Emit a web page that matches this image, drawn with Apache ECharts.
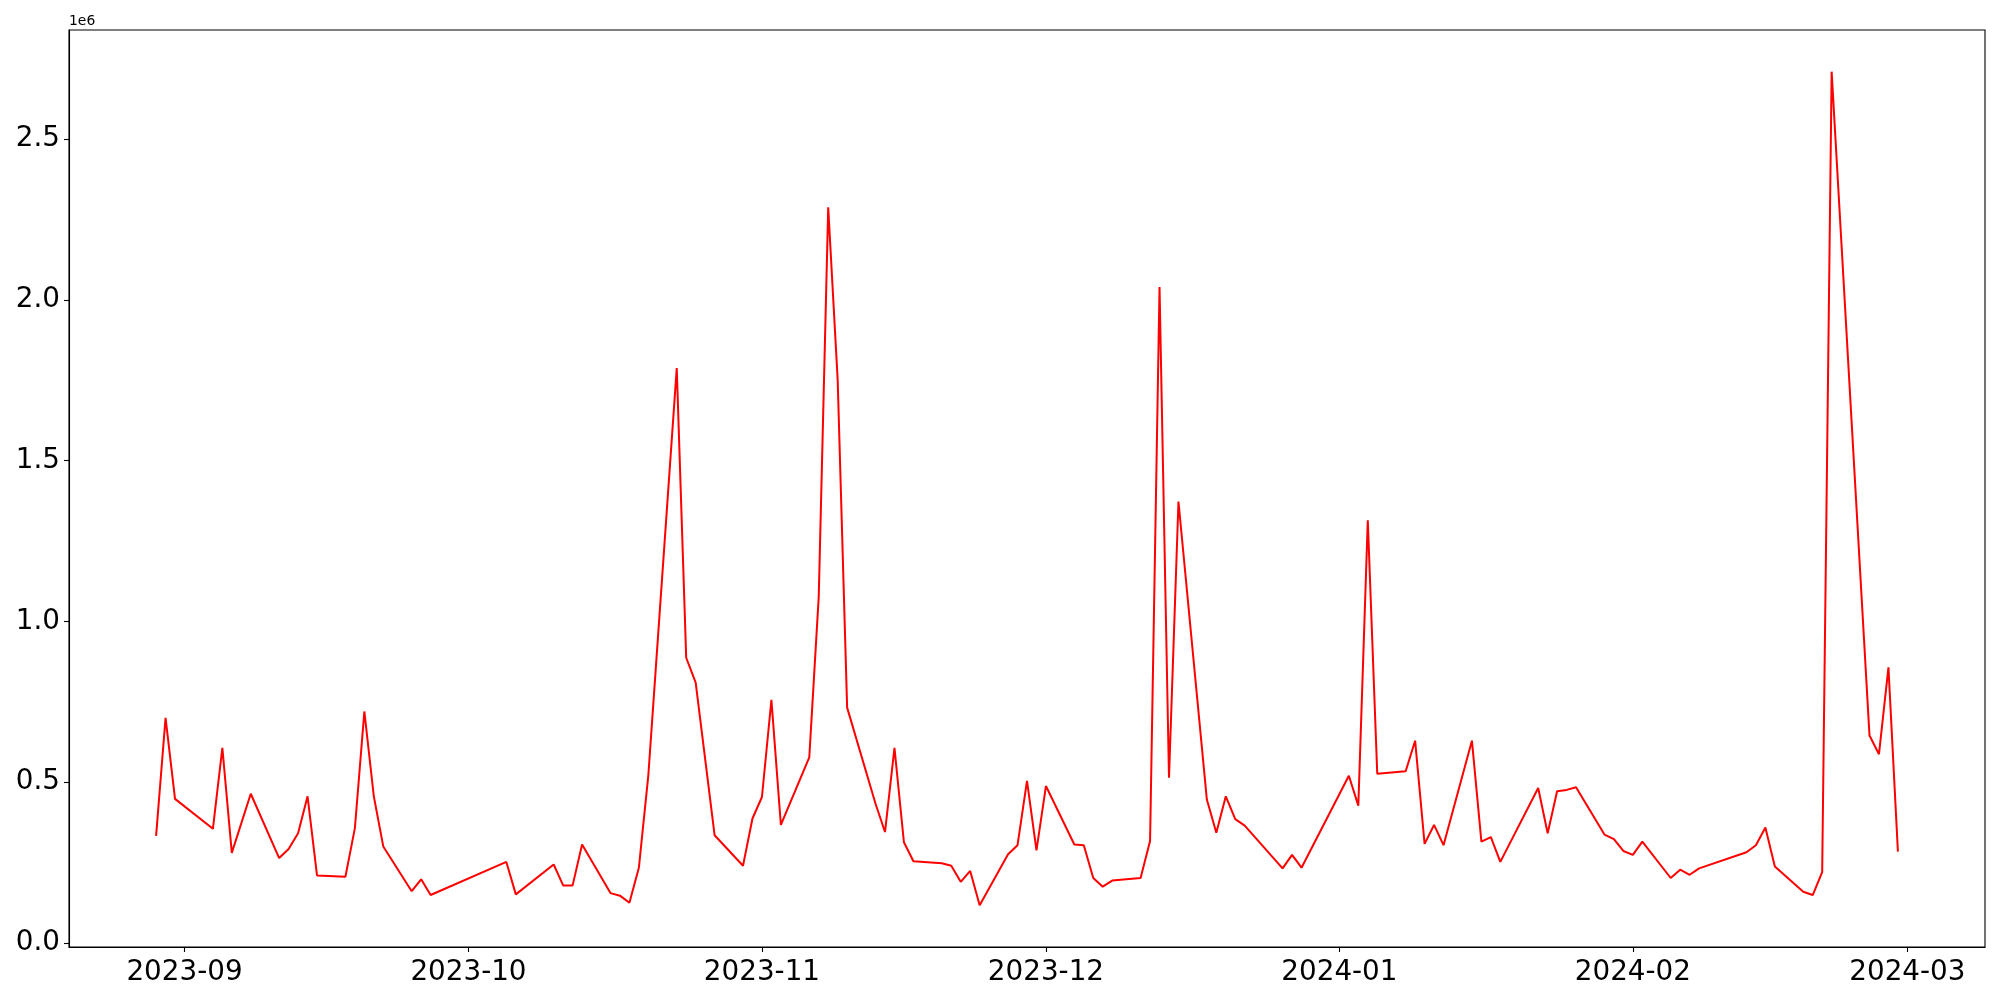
<!DOCTYPE html>
<html>
<head>
<meta charset="utf-8">
<script src="https://cdn.jsdelivr.net/npm/echarts@6/dist/echarts.min.js"></script>
<style>html,body{margin:0;padding:0;background:#fff;}#chart{width:2000px;height:1000px;}</style>
</head>
<body>
<div id="chart"></div>
<script>
const dates = [
'2023-08-29','2023-08-30','2023-08-31','2023-09-04','2023-09-05','2023-09-06','2023-09-08',
'2023-09-11','2023-09-12','2023-09-13','2023-09-14','2023-09-15','2023-09-18','2023-09-19',
'2023-09-20','2023-09-21','2023-09-22','2023-09-25','2023-09-26','2023-09-27','2023-10-05',
'2023-10-06','2023-10-10','2023-10-11','2023-10-12','2023-10-13','2023-10-16','2023-10-17',
'2023-10-18','2023-10-19','2023-10-20','2023-10-23','2023-10-24','2023-10-25','2023-10-27',
'2023-10-30','2023-10-31','2023-11-01','2023-11-02','2023-11-03','2023-11-06','2023-11-07',
'2023-11-08','2023-11-09','2023-11-10','2023-11-13','2023-11-14','2023-11-15','2023-11-16',
'2023-11-17','2023-11-20','2023-11-21','2023-11-22','2023-11-23','2023-11-24','2023-11-27',
'2023-11-28','2023-11-29','2023-11-30','2023-12-01','2023-12-04','2023-12-05','2023-12-06',
'2023-12-07','2023-12-08','2023-12-11','2023-12-12','2023-12-13','2023-12-14','2023-12-15',
'2023-12-18','2023-12-19','2023-12-20','2023-12-21','2023-12-22','2023-12-26','2023-12-27',
'2023-12-28','2024-01-02','2024-01-03','2024-01-04','2024-01-05','2024-01-08','2024-01-09',
'2024-01-10','2024-01-11','2024-01-12','2024-01-15','2024-01-16','2024-01-17','2024-01-18',
'2024-01-22','2024-01-23','2024-01-24','2024-01-25','2024-01-26','2024-01-29','2024-01-30',
'2024-01-31','2024-02-01','2024-02-02','2024-02-05','2024-02-06','2024-02-07','2024-02-08',
'2024-02-13','2024-02-14','2024-02-15','2024-02-16','2024-02-19','2024-02-20','2024-02-21',
'2024-02-22','2024-02-26','2024-02-27','2024-02-28','2024-02-29'
];
const values = [
333000,700000,448000,355000,607000,280000,464000,
264000,292000,341000,456000,210000,206000,357000,
720000,456000,300000,161000,198000,149000,252000,
151000,244000,179000,179000,306000,155000,147000,
125000,234000,522000,1788000,887000,810000,335000,
240000,387000,454000,756000,367000,577000,1077000,
2288000,1752000,732000,433000,345000,607000,313000,
254000,248000,240000,190000,224000,117000,276000,
304000,504000,288000,488000,306000,304000,202000,
175000,194000,202000,317000,2040000,514000,1373000,
446000,343000,456000,385000,365000,232000,274000,
234000,520000,427000,1315000,526000,534000,629000,
308000,367000,304000,629000,315000,329000,252000,
482000,341000,472000,476000,484000,337000,323000,
286000,274000,315000,202000,228000,212000,232000,
282000,304000,359000,238000,159000,149000,220000,
2710000,645000,587000,857000,284000
];
const xTickLabels = ['2023-09','2023-10','2023-11','2023-12','2024-01','2024-02','2024-03'];
const yTickValues = [0, 500000, 1000000, 1500000, 2000000, 2500000];
const yOffsetText = '1e6';

function ts(s){ const p = s.split('-').map(Number); return Date.UTC(p[0], p[1]-1, p[2] || 1); }
const seriesData = dates.map((d,i)=>[ts(d), values[i]]);
const xs = seriesData.map(p=>p[0]);
const xMinD = Math.min(...xs), xMaxD = Math.max(...xs);
const xPad = (xMaxD - xMinD) * 0.05;
const yMinD = Math.min(...values), yMaxD = Math.max(...values);
const yPad = (yMaxD - yMinD) * 0.05;
const xTickValues = xTickLabels.map(ts);

const font = 'DejaVu Sans';
const chart = echarts.init(document.getElementById('chart'), null, {renderer:'canvas'});
chart.setOption({
  animation: false,
  backgroundColor: '#fff',
  grid: {left: 69, right: 15, top: 30, bottom: 53, show: true, borderColor: '#000', borderWidth: 1.1, backgroundColor: 'transparent'},
  xAxis: {
    type: 'value',
    min: xMinD - xPad, max: xMaxD + xPad,
    axisLine: {show: true, onZero: false, lineStyle: {color: '#000', width: 1.1}},
    axisTick: {show: true, length: 5, lineStyle: {color: '#000', width: 1.1}, customValues: xTickValues},
    axisLabel: {
      customValues: xTickValues,
      fontFamily: font, fontSize: 27.8, color: '#000', margin: 12,
      formatter: function(v){ const d = new Date(v); return d.getUTCFullYear() + '-' + String(d.getUTCMonth()+1).padStart(2,'0'); }
    },
    splitLine: {show: false}
  },
  yAxis: {
    type: 'value',
    min: yMinD - yPad, max: yMaxD + yPad,
    name: yOffsetText, nameLocation: 'end', nameGap: 2,
    nameTextStyle: {fontFamily: font, fontSize: 13.9, color: '#000', align: 'left', verticalAlign: 'bottom'},
    axisLine: {show: true, lineStyle: {color: '#000', width: 1.1}},
    axisTick: {show: true, length: 5, lineStyle: {color: '#000', width: 1.1}, customValues: yTickValues},
    axisLabel: {
      customValues: yTickValues,
      fontFamily: font, fontSize: 27.8, color: '#000', margin: 9,
      formatter: function(v){ return (v/1e6).toFixed(1); }
    },
    splitLine: {show: false}
  },
  series: [{
    type: 'line', data: seriesData, showSymbol: false, symbol: 'none',
    lineStyle: {color: '#ff0000', width: 2}, itemStyle: {color: '#ff0000'}
  }]
});
</script>
</body>
</html>
